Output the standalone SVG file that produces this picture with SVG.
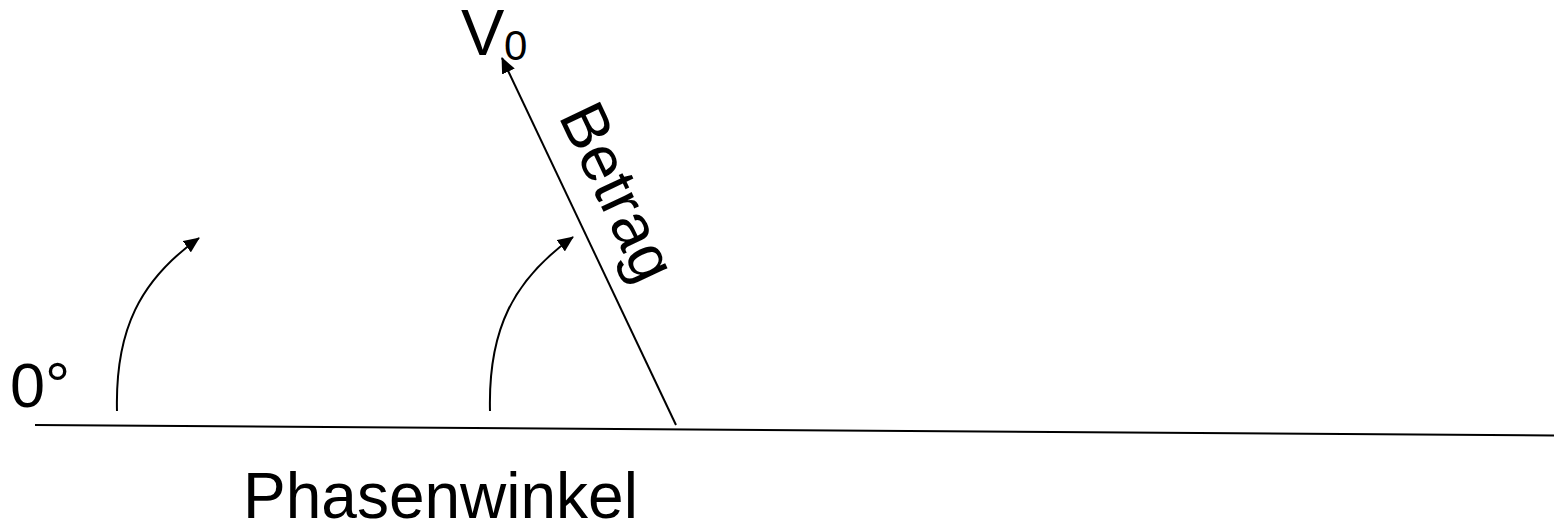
<svg xmlns="http://www.w3.org/2000/svg" width="1555" height="522" viewBox="0 0 1555 522">
<style>
.t{font-family:"Liberation Sans",Arial,sans-serif;fill:#000}
.ln{stroke:#000;stroke-width:2;fill:none}
</style>
<defs>
<marker id="ah" markerWidth="16" markerHeight="14" refX="15" refY="7" orient="auto" markerUnits="userSpaceOnUse">
<path d="M0,0 L16,7 L0,14 Z" fill="#000"/>
</marker>
</defs>
<rect width="1555" height="522" fill="#fff"/>
<g id="connectors">
<line class="ln" x1="35" y1="425" x2="1554" y2="435.5"/>
<line class="ln" x1="676" y1="425" x2="502" y2="58" marker-end="url(#ah)"/>
<path class="ln" d="M117,411 C115,330 140,280 199,238" marker-end="url(#ah)"/>
<path class="ln" d="M490,411 C488,330 513,280 573,237" marker-end="url(#ah)"/>
</g>
<g id="label-v0">
<text class="t" x="461" y="55" font-size="65">V</text>
<text class="t" x="504" y="60" font-size="42">0</text>
</g>
<g id="label-betrag">
<text class="t" font-size="64" transform="translate(558,116) rotate(64.6)">Betrag</text>
</g>
<g id="label-0deg">
<text class="t" x="10" y="407" font-size="63">0°</text>
</g>
<g id="label-phasenwinkel">
<text class="t" x="243" y="518" font-size="64">Phasenwinkel</text>
</g>
</svg>
